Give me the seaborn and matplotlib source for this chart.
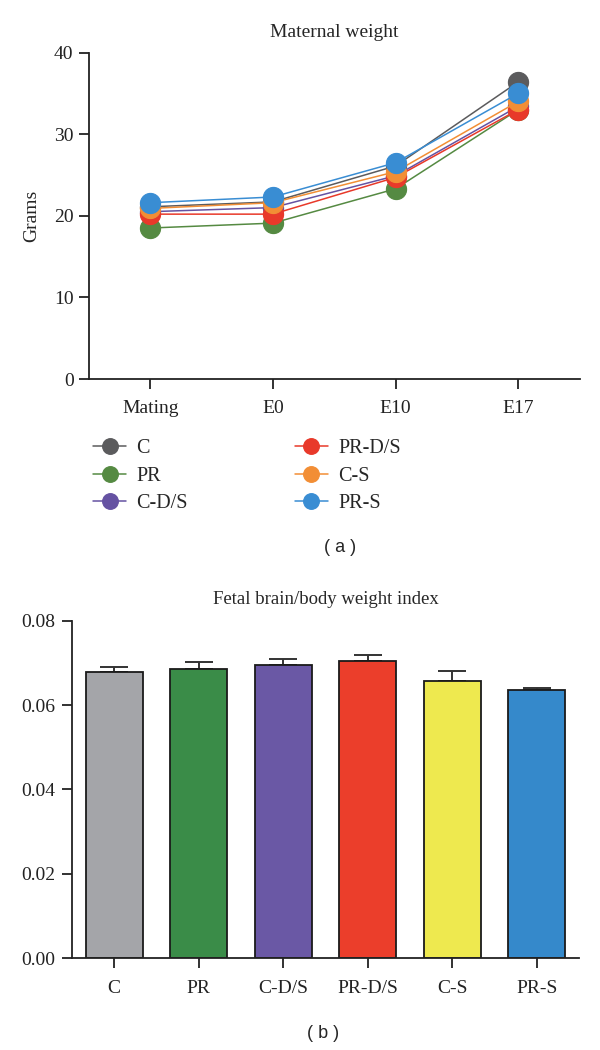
import matplotlib
matplotlib.use("Agg")
import matplotlib.pyplot as plt
import seaborn as sns
import pandas as pd
import numpy as np

# ---------------- data ----------------
timepoints = ["Mating", "E0", "E10", "E17"]
groups = ["C", "PR", "C-D/S", "PR-D/S", "C-S", "PR-S"]
w_C = [21.1, 21.7, 26.1, 36.4]
w_PR = [18.5, 19.1, 23.3, 33.0]
w_CDS = [20.5, 21.0, 24.9, 33.4]
w_PRDS = [20.2, 20.2, 24.7, 33.0]
w_CS = [20.9, 21.6, 25.4, 34.0]
w_PRS = [21.6, 22.3, 26.5, 35.0]

line_colors = ["#5b5b5d", "#558a42", "#6552a2", "#e8392a", "#f28e35", "#398dd3"]

bar_groups = ["C", "PR", "C-D/S", "PR-D/S", "C-S", "PR-S"]
bar_values = [0.0679, 0.0686, 0.0695, 0.0704, 0.0658, 0.0636]
bar_err = [0.0012, 0.0017, 0.0015, 0.0016, 0.0023, 0.0005]
bar_colors = ["#a4a5a9", "#3a8c48", "#6a58a5", "#eb3e2b", "#eee94f", "#3589cb"]

# ---------------- style ----------------
sns.set_theme(style="ticks")
plt.rcParams["font.family"] = ["Liberation Serif", "DejaVu Serif"]
plt.rcParams["axes.linewidth"] = 1.3
plt.rcParams["xtick.major.width"] = 1.3
plt.rcParams["ytick.major.width"] = 1.3
plt.rcParams["xtick.major.size"] = 7
plt.rcParams["ytick.major.size"] = 7
plt.rcParams["xtick.color"] = "#222222"
plt.rcParams["ytick.color"] = "#222222"
plt.rcParams["axes.edgecolor"] = "#222222"

fig = plt.figure(figsize=(6, 10.5), dpi=100)

# ---------------- top panel ----------------
ax1 = fig.add_axes([0.148, 0.639, 0.818, 0.311])
series = [w_C, w_PR, w_CDS, w_PRDS, w_CS, w_PRS]
rows = []
for g, vals in zip(groups, series):
    for t, v in zip(timepoints, vals):
        rows.append({"time": t, "group": g, "weight": v})
df = pd.DataFrame(rows)

sns.pointplot(data=df, x="time", y="weight", hue="group", order=timepoints,
              hue_order=groups, palette=line_colors, markers="o",
              markersize=14.5, linewidth=1.1, errorbar=None, ax=ax1,
              legend=True)
ax1.set_xlim(-0.5, 3.5)
ax1.set_ylim(0, 40)
ax1.set_yticks([0, 10, 20, 30, 40])
ax1.set_xlabel("")
ax1.set_ylabel("Grams", fontsize=14, labelpad=10)
ax1.set_title("Maternal weight", fontsize=14, pad=11)
ax1.tick_params(axis="both", labelsize=14)
ax1.tick_params(axis="x", pad=8)
ax1.tick_params(axis="y", pad=4)
sns.despine(ax=ax1)

handles, labels = ax1.get_legend_handles_labels()
ax1.get_legend().remove()
fig.legend(handles, labels, loc="upper left", bbox_to_anchor=(0.125, 0.599),
           ncol=2, frameon=False, fontsize=14.5, markerscale=0.78,
           handlelength=1.65, handletextpad=0.5, columnspacing=5.3,
           labelspacing=0.42)

fig.text(0.567, 0.479, "( a )", ha="center", va="center", fontsize=13,
         family="Liberation Sans")

# ---------------- bottom panel ----------------
ax2 = fig.add_axes([0.12, 0.0876, 0.845, 0.321])
bdf = pd.DataFrame({"group": bar_groups, "value": bar_values})
sns.barplot(data=bdf, x="group", y="value", hue="group", order=bar_groups,
            palette=bar_colors, width=0.67, edgecolor="#1a1a1a",
            linewidth=1.3, saturation=1, legend=False, ax=ax2)
ax2.errorbar(x=np.arange(len(bar_groups)), y=bar_values,
             yerr=[np.zeros(len(bar_err)), bar_err], fmt="none",
             ecolor="#333333", elinewidth=1.4, capsize=10, capthick=1.4,
             zorder=0)
ax2.set_xlim(-0.5, 5.5)
ax2.set_ylim(0, 0.08)
ax2.set_yticks([0.0, 0.02, 0.04, 0.06, 0.08])
ax2.set_yticklabels(["0.00", "0.02", "0.04", "0.06", "0.08"])
ax2.set_xlabel("")
ax2.set_ylabel("")
ax2.set_title("Fetal brain/body weight index", fontsize=13.5, pad=12)
ax2.tick_params(axis="both", labelsize=14)
ax2.tick_params(axis="x", pad=9)
ax2.tick_params(axis="y", pad=5)
sns.despine(ax=ax2)

fig.text(0.538, 0.016, "( b )", ha="center", va="center", fontsize=13,
         family="Liberation Sans")

fig.savefig("out.png", dpi=100)
